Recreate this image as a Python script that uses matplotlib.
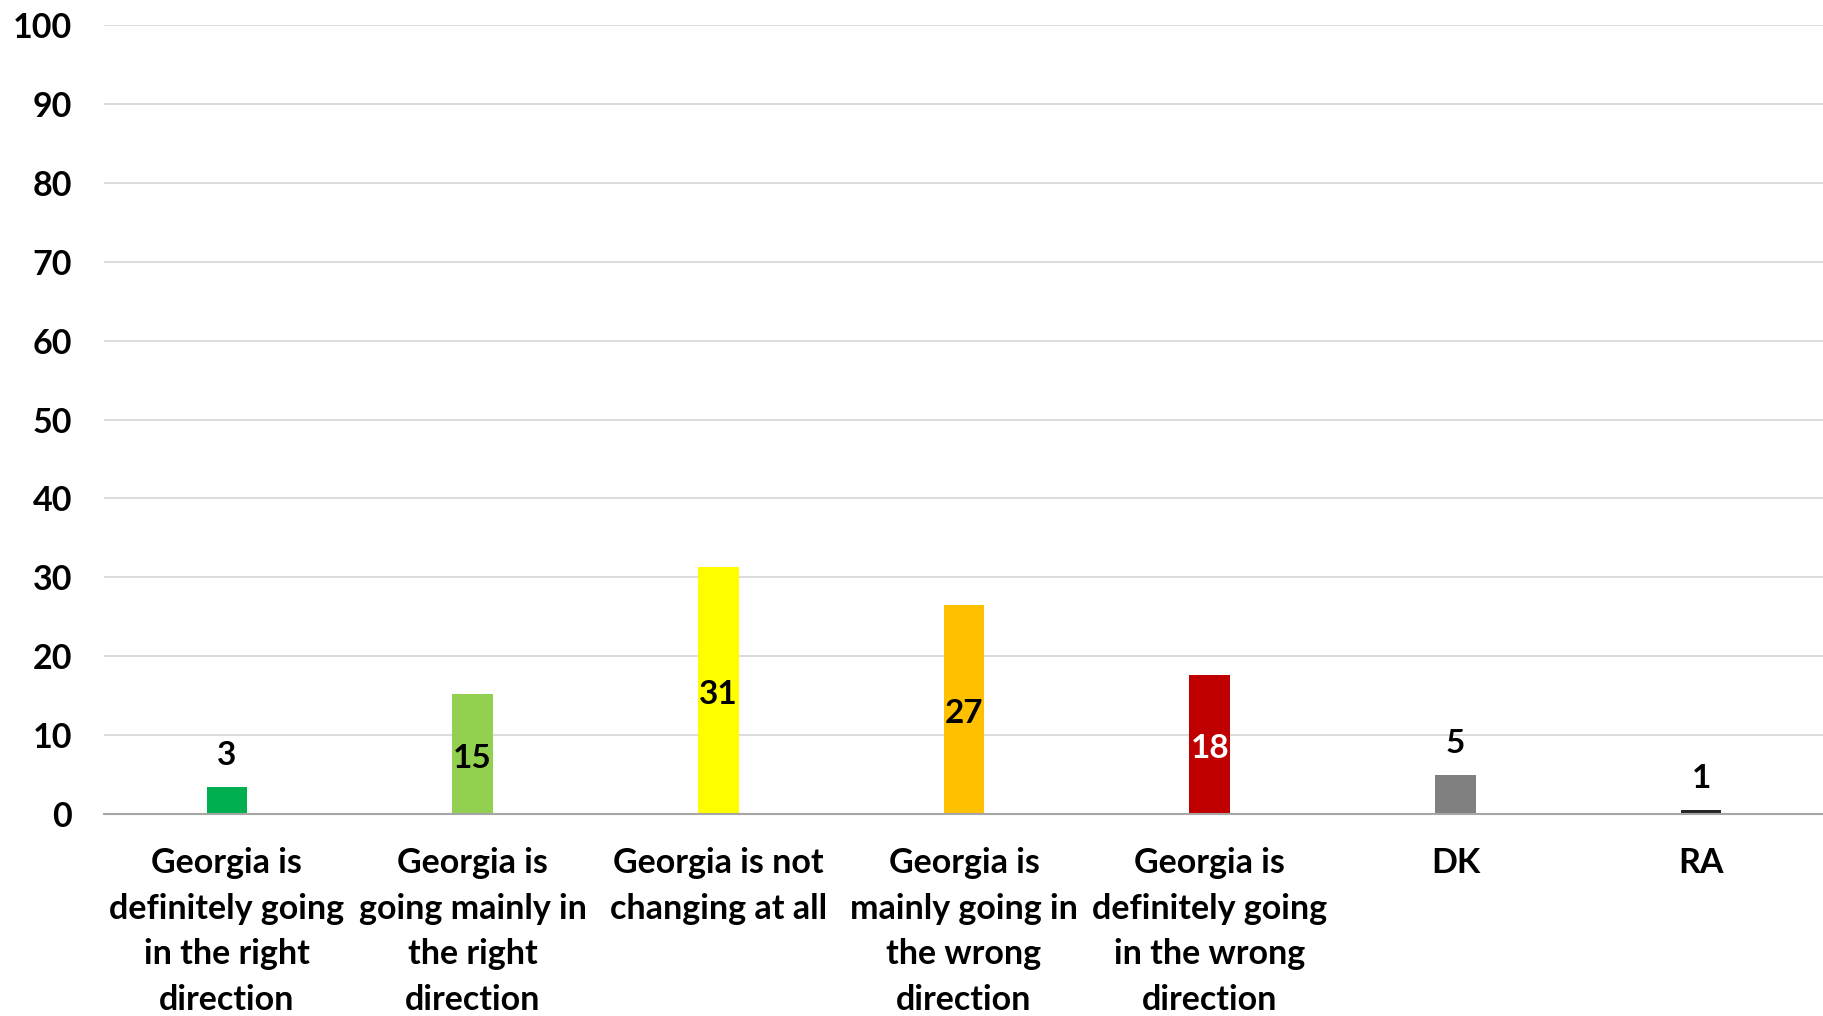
import matplotlib.pyplot as plt

categories = ["Georgia is\ndefinitely going\nin the right\ndirection",
              "Georgia is\ngoing mainly in\nthe right\ndirection",
              "Georgia is not\nchanging at all",
              "Georgia is\nmainly going in\nthe wrong\ndirection",
              "Georgia is\ndefinitely going\nin the wrong\ndirection",
              "DK",
              "RA"]
values = [3.4, 15.2, 31.3, 26.5, 17.6, 4.9, 0.5]
labels = ["3", "15", "31", "27", "18", "5", "1"]
colors = ["#00B050", "#92D050", "#FFFF00", "#FFC000", "#C00000", "#808080", "#262626"]
label_colors = ["black", "black", "black", "black", "white", "black", "black"]
inside = [False, True, True, True, True, False, False]

plt.rcParams['font.family'] = ['Lato', 'DejaVu Sans']
plt.rcParams['font.weight'] = 'bold'

fig = plt.figure(figsize=(18.24, 10.16), dpi=100)
ax = fig.add_axes([0.057, 0.199, 0.943, 0.776])

x = range(len(categories))
bars = ax.bar(x, values, width=0.165, color=colors, zorder=3)

for b, lab, c, ins in zip(bars, labels, label_colors, inside):
    h = b.get_height()
    cx = b.get_x() + b.get_width() / 2
    if ins:
        ax.text(cx, h / 2 - 0.55, lab, ha='center', va='center', color=c,
                fontsize=24, fontweight='bold', zorder=4)
    else:
        ax.text(cx, h + 2.2, lab, ha='center', va='bottom', color=c,
                fontsize=24, fontweight='bold', zorder=4)

ax.set_xlim(-0.5, len(categories) - 0.5)
ax.set_ylim(0, 100)
ax.set_yticks(range(0, 101, 10))
ax.set_xticks(list(x))
ax.set_xticklabels(categories, fontsize=24.5, fontweight='bold', linespacing=1.52, va='top')
ax.tick_params(axis='y', length=0, pad=23, labelsize=24.5)
ax.tick_params(axis='x', length=0, pad=24)
for t in ax.get_yticklabels():
    t.set_fontweight('bold')

ax.grid(axis='y', color='#d9d9d9', linewidth=1.3, zorder=0)
for s in ['top', 'right', 'left']:
    ax.spines[s].set_visible(False)
ax.spines['bottom'].set_color('#a6a6a6')
ax.spines['bottom'].set_linewidth(1.5)
ax.spines['bottom'].set_zorder(5)

fig.savefig('out.png', dpi=100, facecolor='white')
